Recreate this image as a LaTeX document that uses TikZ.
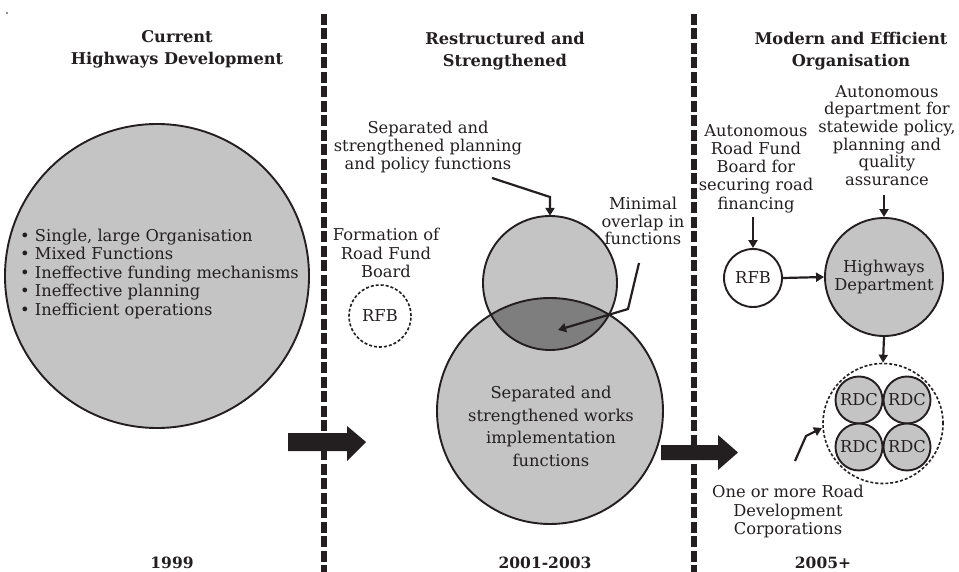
\documentclass[tikz,border=0pt]{standalone}
\usepackage{fontspec}
\setmainfont{DejaVu Serif}
\usetikzlibrary{arrows.meta}
\definecolor{ink}{HTML}{231F20}
\definecolor{fillg}{HTML}{C4C4C4}
\definecolor{overl}{HTML}{7E7E7E}
\tikzset{
  txt/.style={text=ink, align=center, inner sep=0pt, font=\fontsize{16.3}{18.2}\selectfont},
  hdr/.style={text=ink, align=center, inner sep=0pt, font=\bfseries\fontsize{16.2}{22}\selectfont},
  yr/.style={text=ink, inner sep=0pt, font=\bfseries\fontsize{15.5}{18}\selectfont},
  circfill/.style={circle, fill=fillg, inner sep=0pt},
  circ/.style={circle, draw=ink, line width=1.9pt, fill=fillg, inner sep=0pt, text=ink, align=center, font=\fontsize{16.3}{18.5}\selectfont},
  circline/.style={draw=ink, line width=1.9pt},
  arr/.style={draw=ink, line width=2.2pt, -{Triangle[length=8pt,width=9pt]}},
  sepline/.style={draw=ink, line width=5.5pt, dash pattern=on 11pt off 3.5pt},
  dcirc/.style={circle, draw=ink, line width=1.6pt, dash pattern=on 3pt off 2pt, inner sep=0pt, text=ink, font=\fontsize{16.3}{18}\selectfont},
  blockarrow/.style={fill=ink}
}
\begin{document}
\begin{tikzpicture}[x=1pt,y=-1pt]
\useasboundingbox (0,0) rectangle (959,572);
\fill[ink] (7,13) circle[radius=0.8pt];

% separators
\coordinate (s1t) at (324,14); \coordinate (s1b) at (324,572);
\coordinate (s2t) at (694,14); \coordinate (s2b) at (694,572);
\draw[sepline] (s1t) -- (s1b);
\draw[sepline] (s2t) -- (s2b);

% headers
\node[hdr] (h1) at (177,49) {Current\\Highways Development};
\node[hdr] (h2) at (505,51) {Restructured and\\Strengthened};
\node[hdr] (h3) at (851,51) {Modern and Efficient\\Organisation};

% left column
\node[circ, minimum size=304pt] (cur) at (157,276) {};
\node[txt, align=left, anchor=west, font=\fontsize{16.3}{18.5}\selectfont] (list) at (20,274)
  {• Single, large Organisation\\• Mixed Functions\\• Ineffective funding mechanisms\\• Ineffective planning\\• Inefficient operations};

% block arrows
\fill[blockarrow] (288,433) -- (347,433) -- (347,426) -- (366,442) -- (347,461) -- (347,451) -- (288,451) -- cycle;
\fill[blockarrow] (661,445) -- (718,445) -- (718,435) -- (738,452.5) -- (718,470) -- (718,460) -- (661,460) -- cycle;

% middle column
\node[txt] (form) at (386,253) {Formation of\\Road Fund\\Board};
\node[dcirc, minimum size=62pt] (rfb1) at (380,316) {RFB};

\node[circfill, minimum size=226pt] (low) at (550,411) {};
\node[circfill, minimum size=134pt] (up) at (550,283) {};
\begin{scope}
  \clip (up.center) circle[radius=67pt];
  \fill[overl] (low.center) circle[radius=113pt];
\end{scope}
\draw[circline] (low.center) circle[radius=113pt];
\draw[circline] (up.center) circle[radius=67pt];
\node[txt, font=\fontsize{16.3}{22.5}\selectfont] (lowtxt) at (551,426.5)
  {Separated and\\strengthened works\\implementation\\functions};

\node[txt] (plan) at (428,147) {Separated and\\strengthened planning\\and policy functions};
\coordinate (pa) at (492,178);
\coordinate (pb) at (550,197);
\draw[arr] (pa) -- (pb) -- (up.north);

\node[txt, font=\fontsize{16.3}{17.5}\selectfont] (mini) at (643,221) {Minimal\\overlap in\\functions};
\coordinate (ma) at (639,263);
\coordinate (mb) at (628,309);
\coordinate (mc) at (558,330);
\draw[arr] (ma) -- (mb) -- (mc);

% right column
\node[txt, font=\fontsize{16.3}{18.2}\selectfont] (arfb) at (756,168.5) {Autonomous\\Road Fund\\Board for\\securing road\\financing};
\node[txt, font=\fontsize{16.3}{17.6}\selectfont] (adep) at (887,135.5) {Autonomous\\department for\\statewide policy,\\planning and\\quality\\assurance};
\node[circle, draw=ink, line width=1.9pt, fill=white, inner sep=0pt, minimum size=58pt, text=ink, font=\fontsize{16.3}{18}\selectfont] (rfb2) at (753,278) {RFB};
\node[circ, minimum size=118pt] (hw) at (884,277) {Highways\\Department};
\coordinate (aa) at (753,217);
\coordinate (ad) at (884,195);
\draw[arr] (aa) -- (rfb2.north);
\draw[arr] (ad) -- (hw.north);
\draw[arr] (rfb2.east) -- (hw.west);

\node[dcirc, minimum size=120pt] (grp) at (883,423.5) {};
\draw[arr] (hw.south) -- (grp.north);
\node[circ, minimum size=47pt] (r1) at (859,400) {RDC};
\node[circ, minimum size=47pt] (r2) at (907,400) {RDC};
\node[circ, minimum size=47pt] (r3) at (859,447) {RDC};
\node[circ, minimum size=47pt] (r4) at (907,447) {RDC};

\node[txt, font=\fontsize{16.3}{18.5}\selectfont] (one) at (788,512) {One or more Road\\Development\\Corporations};
\coordinate (oa) at (795,461);
\coordinate (ob) at (806,436);
\coordinate (oc) at (822,428);
\draw[arr] (oa) -- (ob) -- (oc);

% years
\node[yr] (y1) at (172,563) {1999};
\node[yr] (y2) at (545,563) {2001-2003};
\node[yr] (y3) at (823,563) {2005+};
\end{tikzpicture}
\end{document}
